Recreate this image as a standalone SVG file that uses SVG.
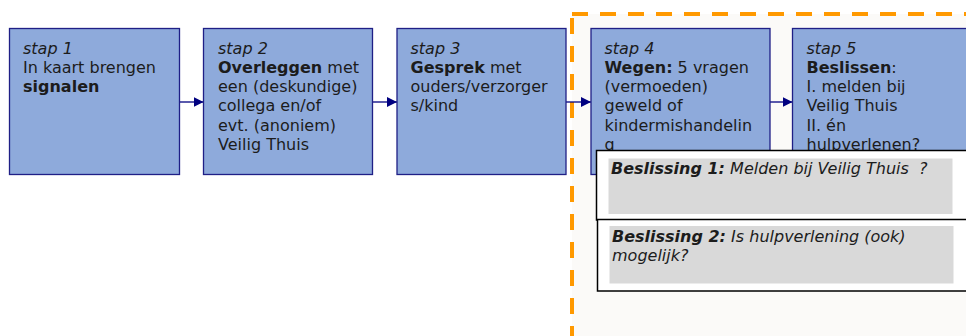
<svg xmlns="http://www.w3.org/2000/svg" width="966" height="336" viewBox="0 0 966 336">
<defs>
<style>
.step{fill:#8eaadb;stroke:#1f1f86;stroke-width:1.3}
.t{font-family:"DejaVu Sans","Verdana",sans-serif;font-size:16px;fill:#1c1c1c}
.i{font-style:italic}
.b{font-weight:bold}
.dec{fill:#ffffff;stroke:#000000;stroke-width:1.5}
.inner{fill:#d9d9d9}
.conn{stroke:#000080;stroke-width:1.3;fill:none}
.ora{stroke:#ff9900;stroke-width:4;stroke-dasharray:16 12;fill:none}
</style>
<marker id="ah" viewBox="0 0 10 10" refX="10" refY="5" markerWidth="10" markerHeight="10" markerUnits="userSpaceOnUse" orient="auto">
<path d="M0,0 L10,5 L0,10 z" fill="#000080"/>
</marker>
</defs>
<rect x="0" y="0" width="966" height="336" fill="#ffffff"/>
<g id="zone">
<rect x="572" y="14" width="394" height="322" fill="#fbfaf8"/>
<line class="ora" x1="572" y1="14" x2="966" y2="14"/>
<line class="ora" x1="572" y1="18" x2="572" y2="336"/>
</g>
<g id="connectors">
<line class="conn" x1="179.5" y1="102" x2="203.5" y2="102" marker-end="url(#ah)"/>
<line class="conn" x1="372.5" y1="102" x2="397" y2="102" marker-end="url(#ah)"/>
<line class="conn" x1="566" y1="102" x2="591" y2="102" marker-end="url(#ah)"/>
<line class="conn" x1="770" y1="102" x2="792.5" y2="102" marker-end="url(#ah)"/>
</g>
<g id="stap1">
<rect class="step" x="9.5" y="28.5" width="170" height="146"/>
<text class="t" x="23" y="53.5"><tspan class="i">stap 1</tspan></text>
<text class="t" x="23" y="72.8">In kaart brengen</text>
<text class="t b" x="23" y="92.1">signalen</text>
</g>
<g id="stap2">
<rect class="step" x="203.5" y="28.5" width="169" height="146"/>
<text class="t i" x="218" y="53.5">stap 2</text>
<text class="t" x="218" y="72.8"><tspan class="b">Overleggen</tspan> met</text>
<text class="t" x="218" y="92.1">een (deskundige)</text>
<text class="t" x="218" y="111.4">collega en/of</text>
<text class="t" x="218" y="130.7">evt. (anoniem)</text>
<text class="t" x="218" y="150">Veilig Thuis</text>
</g>
<g id="stap3">
<rect class="step" x="397" y="28.5" width="169" height="146"/>
<text class="t i" x="410.5" y="53.5">stap 3</text>
<text class="t" x="410.5" y="72.8"><tspan class="b">Gesprek</tspan> met</text>
<text class="t" x="410.5" y="92.1">ouders/verzorger</text>
<text class="t" x="410.5" y="111.4">s/kind</text>
</g>
<g id="stap4">
<rect class="step" x="591" y="28.5" width="179" height="146"/>
<text class="t i" x="604.5" y="53.5">stap 4</text>
<text class="t" x="604.5" y="72.8"><tspan class="b">Wegen:</tspan> 5 vragen</text>
<text class="t" x="604.5" y="92.1">(vermoeden)</text>
<text class="t" x="604.5" y="111.4">geweld of</text>
<text class="t" x="604.5" y="130.7">kindermishandelin</text>
<text class="t" x="604.5" y="150">g</text>
</g>
<g id="stap5">
<rect class="step" x="792.5" y="28.5" width="180" height="146"/>
<text class="t i" x="806.5" y="53.5">stap 5</text>
<text class="t" x="806.5" y="72.8"><tspan class="b">Beslissen</tspan>:</text>
<text class="t" x="806.5" y="92.1">I. melden bij</text>
<text class="t" x="806.5" y="111.4">Veilig Thuis</text>
<text class="t" x="806.5" y="130.7">II. én</text>
<text class="t" x="806.5" y="150">hulpverlenen?</text>
</g>
<g id="beslissing1">
<rect class="dec" x="596.5" y="150.5" width="380" height="69.5"/>
<rect class="inner" x="608.5" y="158.5" width="344" height="55.5"/>
<text class="t i" x="611" y="173.5"><tspan class="b">Beslissing 1:</tspan> Melden bij Veilig Thuis&#160; ?</text>
</g>
<g id="beslissing2">
<rect class="dec" x="597.5" y="219.5" width="380" height="71.5"/>
<rect class="inner" x="609.5" y="226" width="344" height="57.5"/>
<text class="t i" x="612" y="241.7"><tspan class="b">Beslissing 2:</tspan> Is hulpverlening (ook)</text>
<text class="t i" x="612" y="260.7">mogelijk?</text>
</g>
</svg>
